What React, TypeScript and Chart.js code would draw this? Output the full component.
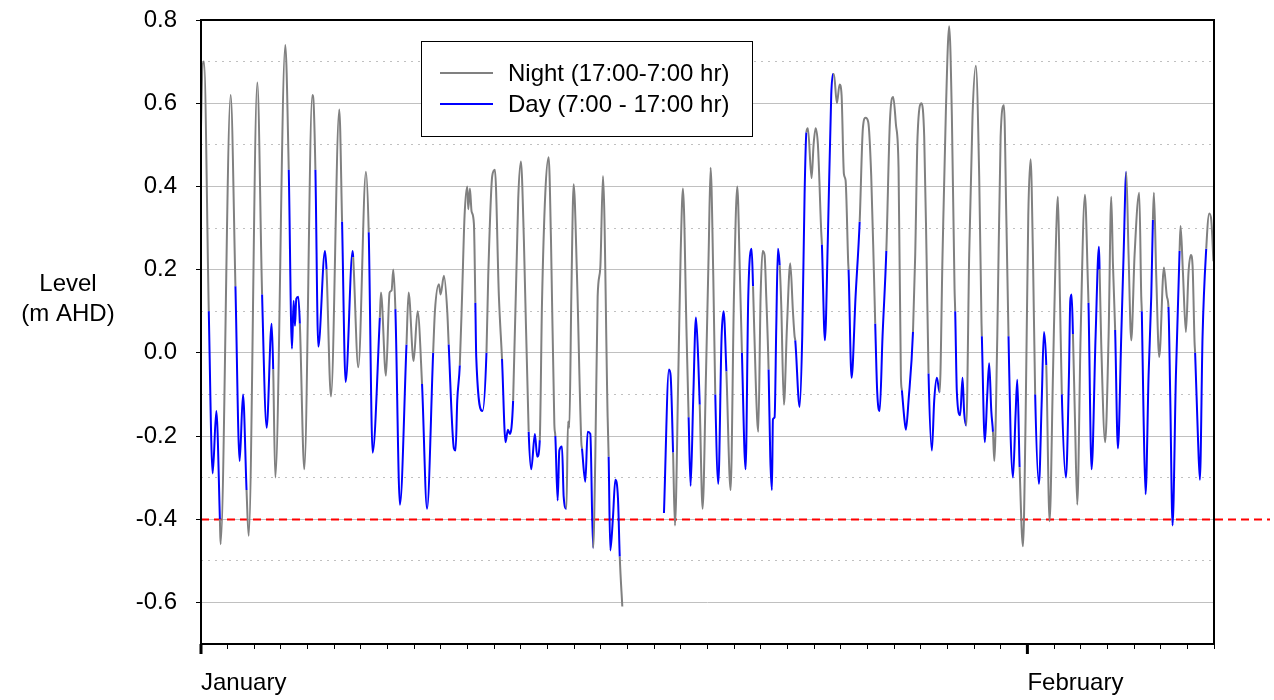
import React, { useEffect, useRef } from "react";
import { Chart, registerables } from "chart.js";

Chart.register(...registerables);

const NIGHT_LABEL = "Night (17:00-7:00 hr)";
const DAY_LABEL = "Day (7:00 - 17:00 hr)";
const Y_TITLE = ["Level", "(m AHD)"];
const MONTH_TICKS: [number, string][] = [[0, "January"], [744, "February"]];
const THRESHOLD = -0.4;
const DAY_START_HOUR = 7;
const DAY_END_HOUR = 17;

// Readings: [hours since 1 Jan 00:00, level in m AHD]
const jan01to04: [number, number][] = [
  [0, 0.54], [1.2, 0.68], [2.7, 0.70], [7, 0.10], [10.5, -0.29], [13.8, -0.14], [17, -0.40], [17.6, -0.46],
  [26.7, 0.62], [31, 0.16], [34.8, -0.26], [37.8, -0.10], [41, -0.33], [42.9, -0.44], [50.7, 0.65],
  [55, 0.14], [59.1, -0.18], [63.6, 0.07], [65, -0.04], [66.9, -0.30], [75.9, 0.74], [79, 0.44],
  [81.9, 0.01], [83.4, 0.125], [84.6, 0.065], [85.8, 0.13], [87.6, 0.135], [89, 0.07], [93, -0.28],
];
const jan05to08: [number, number][] = [
  [100.2, 0.62], [101.4, 0.60], [103, 0.44], [105.6, 0.015], [111.6, 0.245], [113, 0.20], [117, -0.105],
  [124.5, 0.585], [127, 0.315], [130.2, -0.07], [136.5, 0.245], [137, 0.23], [141.6, -0.035], [148.5, 0.435],
  [151, 0.29], [154.5, -0.24], [161, 0.085], [162, 0.145], [166.5, -0.055], [169.8, 0.145], [171.6, 0.15],
  [173.1, 0.20], [175, 0.105], [179.1, -0.365], [185, 0.02], [186.9, 0.145], [191.4, -0.02],
];
const jan09to12: [number, number][] = [
  [195, 0.10], [199, -0.075], [203.5, -0.375], [209, 0.0], [210.6, 0.10], [214.2, 0.165], [215.7, 0.14],
  [218.7, 0.185], [221.7, 0.10], [223, 0.02], [227.7, -0.23], [229.2, -0.235], [230.7, -0.115], [233, -0.03],
  [235.2, 0.15], [237.3, 0.33], [239.7, 0.40], [240.6, 0.345], [242.1, 0.395], [243.6, 0.34], [245.7, 0.31],
  [247, 0.12], [247.8, -0.01], [253.5, -0.14], [257, 0.0], [258.6, 0.185], [262.2, 0.425], [264.6, 0.44],
  [268.2, 0.135], [271, -0.015], [274.2, -0.215], [276.3, -0.185], [278.1, -0.195], [281, -0.115], [285.6, 0.37],
];
const jan13to16: [number, number][] = [
  [288, 0.46], [290.7, 0.27], [295, -0.19], [297.3, -0.28], [300.6, -0.195], [302.7, -0.25], [305, -0.21],
  [307, 0.12], [310, 0.385], [313, 0.47], [315.1, 0.27], [318.1, -0.17], [319, -0.20], [321.1, -0.355],
  [322.6, -0.235], [325, -0.225], [326.5, -0.345], [329, -0.375], [330.4, -0.165], [331.6, -0.18],
  [333.4, 0.135], [335.5, 0.405], [338.5, 0.185], [342.4, -0.215], [343, -0.23], [346, -0.31], [348.1, -0.19],
  [350.5, -0.195], [353, -0.47], [355, -0.25], [357.1, 0.135], [359.5, 0.205], [361.9, 0.425], [366.1, -0.155],
  [367, -0.25], [368.5, -0.475], [370.9, -0.395], [373, -0.305], [375.4, -0.35], [377, -0.49], [379.3, -0.61],
];
const jan18to21: [number, number][] = [
  [416.8, -0.385], [421.3, -0.04], [422.8, -0.055], [425, -0.24], [426.7, -0.415], [429.7, -0.055],
  [431.8, 0.235], [433.9, 0.395], [437.2, 0.04], [439, -0.155], [440.8, -0.32], [443.2, -0.105], [445.6, 0.085],
  [447.7, -0.02], [449, -0.125], [451.6, -0.375], [454.6, -0.055], [457, 0.235], [458.8, 0.445], [461.2, 0.185],
  [463, -0.10], [465.7, -0.315], [468.7, 0.04], [470.5, 0.10], [473, -0.045], [476.8, -0.33], [479.8, 0.135],
  [482.8, 0.40], [485.2, 0.185], [487, 0.0], [490.3, -0.28], [492.7, 0.135], [495.7, 0.25], [497, 0.16],
  [499.6, -0.085], [501.7, -0.19], [503.8, 0.135],
];
const jan22to25: [number, number][] = [
  [505.6, 0.245], [507.4, 0.235], [508.9, 0.135], [511, -0.04], [512.5, -0.25], [514, -0.33], [514.9, -0.16],
  [516.4, -0.155], [517.9, 0.06], [519.4, 0.25], [521, 0.21], [522.4, 0.115], [524.8, -0.125], [527.5, 0.06],
  [530.5, 0.215], [532.9, 0.10], [534.4, 0.04], [535, 0.03], [538.9, -0.13], [541.3, 0.04], [543.4, 0.38],
  [545, 0.53], [546.4, 0.54], [549.7, 0.42], [551.5, 0.50], [553.3, 0.54], [555.4, 0.50], [558.4, 0.29],
  [559, 0.26], [561.7, 0.03], [564.4, 0.28], [567.4, 0.62], [569, 0.67], [569.8, 0.67], [572.5, 0.60],
  [574.9, 0.645], [576.7, 0.62], [578.8, 0.43], [580.3, 0.415], [582.7, 0.215], [583, 0.20], [585.7, -0.06],
  [589.3, 0.135], [593, 0.315], [595.9, 0.54], [598.3, 0.565],
];
const jan26to29: [number, number][] = [
  [600.7, 0.555], [603.4, 0.425], [605.8, 0.195], [607, 0.07], [608.8, -0.095], [611, -0.14], [613.6, 0.04],
  [617, 0.245], [620.2, 0.555], [623.2, 0.615], [625.6, 0.55], [628, 0.445], [630.1, -0.055], [631, -0.09],
  [633.1, -0.155], [634.6, -0.185], [637, -0.115], [641, 0.05], [643, 0.235], [645.1, 0.52], [648.7, 0.60],
  [651.1, 0.52], [653.2, 0.235], [655, -0.05], [658, -0.235], [660.1, -0.115], [662.5, -0.06], [665, -0.095],
  [667.6, 0.235], [670.6, 0.58], [673.6, 0.785], [676, 0.57], [678.4, 0.155], [679, 0.10], [680.5, -0.095],
  [683.5, -0.15], [685.6, -0.06], [687.1, -0.145], [689, -0.175], [691.6, 0.235], [694.6, 0.57],
];
const jan30toFeb02: [number, number][] = [
  [697.6, 0.69], [700.6, 0.425], [702.7, 0.07], [703, 0.04], [705.7, -0.215], [707.8, -0.105], [709.6, -0.025],
  [711.5, -0.14], [713, -0.19], [714.2, -0.26], [716.9, 0.04], [719.9, 0.52], [722.9, 0.595], [725, 0.33],
  [727, 0.04], [728.9, -0.20], [731, -0.30], [733.4, -0.145], [734.9, -0.065], [737, -0.275], [740, -0.465],
  [742.4, -0.155], [744.8, 0.33], [746.9, 0.465], [749, 0.235], [751, -0.10], [754.4, -0.315], [756.8, -0.125],
  [758.9, 0.05], [761, -0.03], [764, -0.405], [767, -0.055], [769.4, 0.235], [771.5, 0.375], [773.3, 0.135],
  [775, -0.10], [778.7, -0.30], [781.4, -0.055], [782.6, 0.125], [783.8, 0.14], [785, 0.045], [786.8, -0.155],
  [788.9, -0.365], [791.9, 0.04],
];
const feb03to07: [number, number][] = [
  [795.8, 0.38], [798.5, 0.165], [799, 0.12], [801.8, -0.28], [805.4, 0.04], [808.4, 0.255], [809, 0.20],
  [810.5, 0.02], [814, -0.215], [817.1, 0.04], [819.5, 0.375], [821, 0.215], [823, 0.055], [825.5, -0.23],
  [828.5, 0.04], [830.6, 0.235], [833, 0.435], [835.1, 0.235], [837.5, 0.03], [840.5, 0.235], [844.7, 0.385],
  [846.5, 0.135], [847, 0.10], [848.6, -0.155], [850.4, -0.34], [853.1, -0.055], [855.5, 0.135], [857, 0.32],
  [857.9, 0.385], [860, 0.185], [862.7, -0.01], [866.9, 0.205], [869.6, 0.135], [871, 0.11], [872.6, -0.105],
  [874.7, -0.415], [877.7, -0.055], [881, 0.245], [881.9, 0.305], [884, 0.195], [886.7, 0.05], [889.1, 0.195],
  [891.2, 0.235], [892.7, 0.21], [894.5, 0.025], [895, 0.0], [897.5, -0.20], [899.3, -0.305], [901.7, 0.04],
  [905, 0.25], [907.7, 0.335], [909.5, 0.32], [911.5, 0.22],
];
const GAP_HOUR = 398; // missing record between 16 and 18 Jan

const GRAY = "#808080";
const BLUE = "#0000ff";
const FONT = "'Liberation Sans', Arial, sans-serif";

const isDayHour = (x: number) => {
  const h = Math.round((((x % 24) + 24) % 24) * 1000) / 1000;
  return h >= DAY_START_HOUR && h < DAY_END_HOUR;
};

export default function App() {
  const ref = useRef<HTMLCanvasElement | null>(null);

  useEffect(() => {
    if (!ref.current) return;
    const toPts = (a: [number, number][]) => a.map(([x, y]) => ({ x, y }));
    const points: { x: number; y: number | null }[] = [
      ...toPts(jan01to04),
      ...toPts(jan05to08),
      ...toPts(jan09to12),
      ...toPts(jan13to16),
      { x: GAP_HOUR, y: null },
      ...toPts(jan18to21),
      ...toPts(jan22to25),
      ...toPts(jan26to29),
      ...toPts(jan30toFeb02),
      ...toPts(feb03to07),
    ];

    const decor = {
      id: "decor",
      beforeDatasetsDraw(chart: any) {
        const { ctx, chartArea, scales } = chart;
        const y = Math.round(scales.y.getPixelForValue(THRESHOLD)) + 0.5;
        ctx.save();
        ctx.strokeStyle = "#ff0000";
        ctx.lineWidth = 2;
        ctx.setLineDash([8, 5]);
        ctx.beginPath();
        ctx.moveTo(chartArea.left, y);
        ctx.lineTo(chart.width - 4, y);
        ctx.stroke();
        ctx.restore();
      },
      afterDraw(chart: any) {
        const { ctx, chartArea, scales } = chart;
        ctx.save();
        // plot frame
        ctx.strokeStyle = "#000";
        ctx.lineWidth = 2;
        ctx.strokeRect(chartArea.left, chartArea.top, chartArea.right - chartArea.left, chartArea.bottom - chartArea.top);
        // major month ticks
        ctx.lineWidth = 3;
        MONTH_TICKS.forEach(([v]) => {
          const x = scales.x.getPixelForValue(v);
          ctx.beginPath();
          ctx.moveTo(x, chartArea.bottom);
          ctx.lineTo(x, chartArea.bottom + 10);
          ctx.stroke();
        });
        // y title
        ctx.fillStyle = "#000";
        ctx.font = `24px ${FONT}`;
        ctx.textAlign = "center";
        ctx.textBaseline = "middle";
        ctx.fillText(Y_TITLE[0], 68, 284);
        ctx.fillText(Y_TITLE[1], 68, 314);
        // legend
        const bx = 421.5, by = 41.5, bw = 331, bh = 95;
        ctx.fillStyle = "#fff";
        ctx.fillRect(bx, by, bw, bh);
        ctx.lineWidth = 1;
        ctx.strokeStyle = "#000";
        ctx.strokeRect(bx, by, bw, bh);
        ctx.textAlign = "left";
        chart.data.datasets.forEach((ds: any, i: number) => {
          const ly = 73 + i * 31;
          ctx.strokeStyle = ds.borderColor;
          ctx.lineWidth = 2;
          ctx.beginPath();
          ctx.moveTo(440, ly);
          ctx.lineTo(493, ly);
          ctx.stroke();
          ctx.fillStyle = "#000";
          ctx.fillText(ds.label, 508, ly + 1);
        });
        ctx.restore();
      },
    };

    const chart = new Chart(ref.current, {
      type: "line",
      data: {
        datasets: [
          {
            label: NIGHT_LABEL,
            data: points as any,
            borderColor: GRAY,
            borderWidth: 2,
            pointRadius: 0,
            spanGaps: false,
            tension: 0.3,
            cubicInterpolationMode: "monotone",
            segment: {
              borderColor: (c: any) => (isDayHour(c.p0.parsed.x) ? BLUE : GRAY),
            },
          },
          {
            label: DAY_LABEL,
            data: [],
            borderColor: BLUE,
            borderWidth: 2,
            pointRadius: 0,
          },
        ],
      },
      options: {
        animation: false,
        responsive: false,
        parsing: false as any,
        layout: { padding: { left: 0, right: 60, top: 20, bottom: 0 } },
        plugins: { legend: { display: false }, tooltip: { enabled: false } },
        scales: {
          x: {
            type: "linear",
            min: 0,
            max: 912,
            afterFit: (s: any) => {
              s.height = 56;
              s.paddingLeft = 0;
              s.paddingRight = 0;
            },
            border: { display: false },
            grid: {
              drawOnChartArea: false,
              drawTicks: true,
              tickLength: 5,
              tickColor: "#000",
              tickWidth: 1,
              color: "#000",
            },
            ticks: {
              stepSize: 24,
              autoSkip: false,
              maxRotation: 0,
              minRotation: 0,
              align: "start",
              padding: 20,
              color: "#000",
              font: { family: FONT, size: 24 },
              callback: (v: any) => {
                const m = MONTH_TICKS.find(([h]) => h === v);
                return m ? m[1] : "";
              },
            },
          },
          y: {
            type: "linear",
            min: -0.7,
            max: 0.8,
            afterFit: (s: any) => {
              s.width = 201;
              s.paddingTop = 0;
              s.paddingBottom = 0;
            },
            border: {
              display: false,
              dash: (c: any) => {
                if (!c.tick) return [];
                return Math.round(c.tick.value * 10) % 2 !== 0 ? [2, 5] : [];
              },
            },
            grid: {
              color: "#c0c0c0",
              lineWidth: 1,
              drawTicks: true,
              tickLength: 5,
              tickColor: (c: any) =>
                c.tick && Math.round(c.tick.value * 10) % 2 === 0 ? "#000" : "rgba(0,0,0,0)",
            },
            ticks: {
              stepSize: 0.1,
              autoSkip: false,
              padding: 19,
              color: "#000",
              font: { family: FONT, size: 24 },
              callback: (v: any) => {
                const k = Math.round(Number(v) * 10);
                return k % 2 === 0 ? (Math.round(Number(v) * 10) / 10).toFixed(1) : "";
              },
            },
          },
        },
      },
      plugins: [decor],
    });
    return () => chart.destroy();
  }, []);

  return (
    <canvas
      ref={ref}
      width={1274}
      height={700}
      style={{ position: "absolute", left: 0, top: 0, width: 1274, height: 700 }}
    />
  );
}
